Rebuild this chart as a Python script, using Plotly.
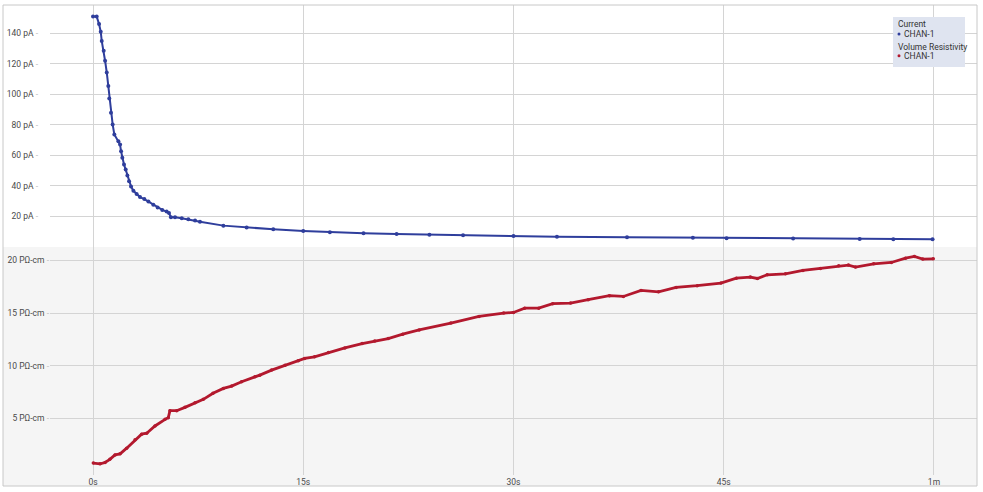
import plotly.graph_objects as go

# ---------------- data ----------------
current_t = [0, 0.26, 0.43, 0.55, 0.62, 0.76, 0.86, 0.98, 1.09, 1.16, 1.28, 1.40, 1.52,
             1.81, 1.93, 2.00, 2.09, 2.21, 2.33, 2.45, 2.57, 2.71, 2.88, 3.11, 3.35,
             3.66, 3.95, 4.30, 4.61, 4.94, 5.25, 5.42, 5.56, 5.85, 6.33, 6.80, 7.28,
             7.63, 9.3, 10.96, 12.86, 15.0, 16.9, 19.3, 21.66, 24.0, 26.4, 30.0, 33.1,
             38.1, 42.8, 45.2, 49.95, 54.7, 57.1, 59.9]
current_pA = [151, 151, 146, 141, 135, 128.5, 122, 114.3, 105.5, 97.2, 88, 80.3, 73.7,
              69.3, 67.1, 62.7, 58.4, 54, 50.7, 46.9, 43, 39.7, 36.8, 34.7, 32.7,
              31.4, 29.8, 27.6, 25.9, 24.3, 23.2, 22.2, 19.5, 19.5, 18.9, 18.2, 17.3,
              16.6, 14.0, 12.7, 11.6, 10.5, 9.7, 9.0, 8.55, 8.1, 7.7, 7.2, 6.7,
              6.4, 6.1, 5.7, 5.5, 5.3, 5.1, 5.1]

resist_t = [0.02, 0.5, 0.86, 1.2, 1.57, 1.93, 2.4, 3.0, 3.47, 3.83, 4.42, 5.14, 5.37,
            5.49, 5.97, 6.56, 7.28, 7.87, 8.56, 9.3, 9.89, 10.6, 11.55, 11.9, 12.74,
            13.7, 14.64, 15.1, 15.8, 16.8, 17.97, 19.2, 20.1, 21.06, 22.1, 23.27,
            25.53, 27.54, 29.3, 30.0, 30.8, 31.8, 32.8, 34.07, 35.33, 36.84, 37.84,
            39.1, 40.35, 41.6, 43.1, 44.8, 45.9, 46.9, 47.4, 48.1, 49.4, 50.65, 51.9,
            53.2, 53.9, 54.4, 55.7, 56.96, 57.97, 58.6, 59.2, 59.95]
resist_POhm_cm = [0.74, 0.67, 0.8, 1.1, 1.52, 1.62, 2.16, 2.95, 3.49, 3.58, 4.27, 4.9, 5.06,
                  5.72, 5.72, 6.04, 6.48, 6.8, 7.37, 7.84, 8.06, 8.47, 8.94, 9.1, 9.58,
                  10.05, 10.46, 10.69, 10.84, 11.25, 11.69, 12.1, 12.35, 12.58, 12.99, 13.4,
                  14.05, 14.68, 15.0, 15.06, 15.47, 15.47, 15.89, 15.95, 16.27, 16.65, 16.58,
                  17.15, 17.02, 17.44, 17.6, 17.85, 18.32, 18.42, 18.29, 18.64, 18.73, 19.05, 19.24,
                  19.49, 19.56, 19.37, 19.68, 19.81, 20.22, 20.38, 20.13, 20.16]

x_tickvals = [0, 15, 30, 45, 60]
x_ticktext = ["0s", "15s", "30s", "45s", "1m"]
cur_tickvals = [20, 40, 60, 80, 100, 120, 140]
cur_ticktext = ["20 pA", "40 pA", "60 pA", "80 pA", "100 pA", "120 pA", "140 pA"]
res_tickvals = [5, 10, 15, 20]
res_ticktext = ["5 PΩ-cm", "10 PΩ-cm", "15 PΩ-cm", "20 PΩ-cm"]

BLUE = "#2f3e9c"
RED = "#b3192e"
GRID = "#d4d4d4"
TXT = "#4a4a4a"
FONT = "Roboto"

dash = " <span style='color:#c0c0c0'>-</span>"

fig = go.Figure()
fig.add_trace(go.Scatter(x=current_t, y=current_pA, mode="lines+markers",
                         name="CHAN-1", legendgroup="Current",
                         line=dict(color=BLUE, width=2), marker=dict(color=BLUE, size=4),
                         xaxis="x", yaxis="y", showlegend=False))
fig.add_trace(go.Scatter(x=resist_t, y=resist_POhm_cm, mode="lines+markers",
                         name="CHAN-1", legendgroup="Volume Resistivity",
                         line=dict(color=RED, width=2.8), marker=dict(color=RED, size=3.5),
                         xaxis="x2", yaxis="y2", showlegend=False))

split = 0.4851
xcommon = dict(range=[-3.07, 63.07], tickvals=x_tickvals, ticktext=x_ticktext,
               showgrid=True, gridcolor=GRID, gridwidth=1, zeroline=False,
               showline=False, ticks="", tickfont=dict(family=FONT, size=8.5, color=TXT))

fig.update_layout(
    width=983, height=492,
    margin=dict(l=50, r=6, t=5, b=17),
    paper_bgcolor="white", plot_bgcolor="rgba(0,0,0,0)",
    showlegend=False,
    xaxis=dict(xcommon, domain=[0, 1], anchor="y", matches="x2", showticklabels=False),
    xaxis2=dict(xcommon, domain=[0, 1], anchor="y2"),
    yaxis=dict(domain=[split, 1], range=[0, 158.5], tickvals=cur_tickvals,
               ticktext=[t + dash for t in cur_ticktext],
               showgrid=True, gridcolor=GRID, zeroline=False, ticks="",
               ticklabelstandoff=11,
               tickfont=dict(family=FONT, size=8.5, color=TXT)),
    yaxis2=dict(domain=[0, split], range=[-0.39, 21.28], tickvals=res_tickvals,
                ticktext=[t + dash for t in res_ticktext],
                showgrid=True, gridcolor=GRID, zeroline=False, ticks="",
                ticklabelstandoff=0,
                tickfont=dict(family=FONT, size=8.5, color=TXT)),
)

# panel backgrounds and frame (paper coordinates, px -> paper)
def px_x(p):
    return (p - 50) / 927.0

def px_y(p):
    return (475 - p) / 470.0

shapes = [
    dict(type="rect", xref="paper", yref="paper", x0=px_x(3), x1=px_x(977),
         y0=px_y(486), y1=split, fillcolor="#f5f5f5", line=dict(width=0), layer="below"),
    dict(type="rect", xref="paper", yref="paper", x0=px_x(3), x1=px_x(977),
         y0=px_y(486), y1=px_y(5), fillcolor="rgba(0,0,0,0)",
         line=dict(color="#c8c8c8", width=1), layer="above"),
    # legend box
    dict(type="rect", xref="paper", yref="paper", x0=px_x(893), x1=px_x(965),
         y0=px_y(67), y1=px_y(17), fillcolor="#dfe4f0", line=dict(width=0), layer="above"),
    dict(type="circle", xref="paper", yref="paper", x0=px_x(897.5), x1=px_x(900.5),
         y0=px_y(35.5), y1=px_y(32.5), fillcolor=BLUE, line=dict(width=0), layer="above"),
    dict(type="circle", xref="paper", yref="paper", x0=px_x(897.5), x1=px_x(900.5),
         y0=px_y(57.2), y1=px_y(54.2), fillcolor=RED, line=dict(width=0), layer="above"),
]
fig.update_layout(shapes=shapes)

leg_font = dict(family=FONT, size=8.5, color="#333333")
annots = [
    ("Current", 896, 24.3),
    ("CHAN-1", 901.5, 34),
    ("Volume Resistivity", 896, 46.7),
    ("CHAN-1", 901.5, 55.7),
]
for txt, ax, ay in annots:
    fig.add_annotation(text=txt, xref="paper", yref="paper", x=px_x(ax), y=px_y(ay),
                       xanchor="left", yanchor="middle", showarrow=False, font=leg_font)

fig.write_html("out.html",
               config={"displayModeBar": False},
               post_script="document.body.style.margin='0';document.body.style.padding='0';"
                           "document.body.style.overflow='hidden';")
